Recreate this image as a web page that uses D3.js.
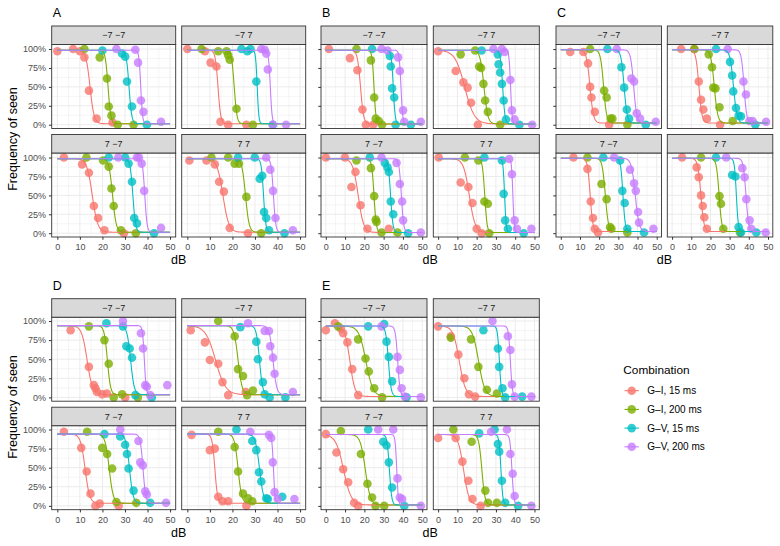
<!DOCTYPE html>
<html>
<head>
<meta charset="utf-8">
<script src="https://cdn.jsdelivr.net/npm/d3@7"></script>
<style>
  body { margin: 0; background: #fff; }
  text { font-family: "Liberation Sans", Arial, Helvetica, sans-serif; }
</style>
</head>
<body>
<svg id="chart" width="780" height="546"></svg>
<script>
// categories
var combos = ["G\u2013I, 15 ms", "G\u2013I, 200 ms", "G\u2013V, 15 ms", "G\u2013V, 200 ms"];
var colors = ["#F8766D", "#7CAE00", "#00BFC4", "#C77CFF"];
var facets = ["\u22127 \u22127", "\u22127 7", "7 \u22127", "7 7"];
var panelTags = ["A", "B", "C", "D", "E"];
var xTicks = [0, 10, 20, 30, 40, 50];
var xMinor = [5, 15, 25, 35, 45];
var yTicks = [0, 0.25, 0.5, 0.75, 1];
var yMinor = [0.125, 0.375, 0.625, 0.875];

// observed frequency of seen: [facet][combination] -> [dB, freq]
var pointsA = [
  [[[0,.97],[7,1],[10,.97],[12,.89],[14,.45],[17.4,.08],[24.5,.03]],
   [[12,1],[18.8,.89],[22,.61],[22.8,.24],[24,.12],[26.8,0],[33.8,0]],
   [[20,.98],[28.7,.94],[30.1,.9],[30.9,.57],[33.1,.24],[39.7,0]],
   [[26.2,1],[34.6,.99],[35.8,.82],[37.1,.32],[38.2,.17],[46,.04]]],
  [[[0,1],[7.8,.97],[10.3,.82],[12.9,.77],[14.7,.04],[18.1,0],[26.2,0]],
   [[6.3,1],[13.7,.97],[17.4,.97],[18.1,.92],[18.8,.86],[21.8,.21],[29.1,0]],
   [[24,1],[26.6,.97],[28,1],[30.6,.57],[37.9,0]],
   [[32.8,1],[34.3,.99],[35,.94],[35.7,.73],[37.9,0],[43.8,0]]],
  [[[2.9,1],[11,.91],[14,.8],[16.2,.36],[18.1,.2],[20.9,.04],[29.5,0]],
   [[12.9,1],[20.3,.96],[22.8,.88],[24,.59],[25,.36],[28.2,.04],[34.8,0]],
   [[22.8,1],[30.1,1],[31.6,.92],[33.1,.68],[34.1,.2],[35.3,.13],[42.9,0]],
   [[27,1],[35.3,1],[36.2,1],[37.4,.92],[38.5,.56],[46,.07]]],
  [[[.9,.96],[8.5,.96],[12.2,.91],[14.1,.68],[16.2,.55],[18.8,.07],[26.9,0]],
   [[10.7,1],[18.1,1],[21,.92],[22.9,.92],[26.2,.48],[32.8,0]],
   [[22.5,1],[29.9,1],[32.1,.72],[33.2,.76],[34,.28],[35,.2],[36.2,.04],[43.1,0]],
   [[35,1],[36.8,.84],[38,.56],[39.1,.2],[46.8,.04]]]
];
var pointsB = [
  [[[1.6,1],[12.5,.88],[16.4,.72],[19,.2],[20.8,0],[24.6,0]],
   [[15.9,1],[23.4,.85],[25.1,.36],[25.9,.08],[27.5,.05],[29.2,0]],
   [[24,1],[33.2,.91],[33.7,.77],[34.4,.48],[35.5,.36],[36.2,0],[44.1,0]],
   [[28.9,1],[32,.98],[37.5,.89],[38.4,.71],[40.1,.19],[40.7,.04],[49.3,.04]]],
  [[[0,.97],[9.1,.71],[13.1,.56],[15.3,.49],[17.1,.29],[20.6,0]],
   [[11.7,.93],[19.2,.98],[21.3,.77],[22.3,.75],[23.5,.54],[24.4,.32],[25.8,.17],[32.2,0]],
   [[22.6,.98],[31,.93],[31.4,.8],[32.2,.69],[33.1,.54],[34,.32],[35.2,.07],[42.2,0]],
   [[28.7,1],[33.1,1],[34.5,.96],[37.5,.59],[38.3,.19],[39.7,.07],[48.8,0]]],
  [[[0,1],[9.9,1],[13.3,.61],[15.4,.81],[18,.37],[21.6,.06],[32.7,.06]],
   [[15.9,.96],[23.4,.86],[25.1,.49],[25.9,.18],[26.3,.15],[28.9,.01],[37.2,.01]],
   [[22.8,1],[30.6,.93],[32,.87],[32.7,.81],[33.7,.42],[35,.25],[42.7,0]],
   [[28.9,1],[36.7,.93],[38.4,.65],[39.6,.42],[40.1,.17],[49.3,.01]]],
  [[[.3,1],[11.7,.67],[15.7,.61],[17.8,.4],[20,.06],[22.6,0]],
   [[13.9,1],[20.9,.96],[24,.42],[25.8,.39],[26.5,0]],
   [[24,1],[33.1,.96],[34,.52],[34.8,.17],[36.2,.06],[44.4,0]],
   [[36.9,.98],[38.3,.78],[39.7,.17],[40.9,.06],[48.4,.06]]]
];
var pointsC = [
  [[[4.9,.96],[11.8,.96],[14.2,.81],[15.3,.5],[16,.36],[17.7,.17],[25.2,0]],
   [[15.3,1],[22.6,.45],[23.9,.36],[26,.08],[26.9,.08],[34.7,0]],
   [[24.3,1],[31.6,.76],[33,.49],[34.4,.2],[35.6,.08],[44.3,0]],
   [[29.2,1],[36.8,.61],[38.2,.57],[39.6,.15],[41.3,.08],[49.5,.04]]],
  [[[4.7,1],[11.6,1],[13.9,.57],[15.1,.33],[16.3,.2],[18.1,.08],[25,0]],
   [[11.6,1],[19.1,.93],[20.8,.76],[21.5,.49],[22.6,.48],[24.7,.23],[31.6,.05]],
   [[22.9,1],[30.2,.83],[31.3,.65],[31.9,.44],[33.3,.22],[34.7,.12],[35.9,.11],[43.4,0]],
   [[29,1],[37.2,.57],[38.5,.4],[40.3,.05],[42,.05],[49,.04]]],
  [[[6.6,1],[13.9,.85],[15.6,.42],[16.8,.2],[17.7,.06],[19.4,.01]],
   [[13.9,1],[21.2,.65],[23.9,.45],[25.7,.08],[26.4,.06],[34.7,.01]],
   [[22.2,1],[30.9,.96],[32.1,.56],[33.3,.4],[34.7,.06],[43.4,.01]],
   [[27.8,1],[36.1,.84],[38.2,.66],[39.1,.56],[40.3,.28],[40.8,.14],[48.3,.06]]],
  [[[5.2,1],[12.8,.87],[13.9,.74],[15.1,.5],[16,.36],[16.8,.21],[18.1,.06]],
   [[15.1,1],[24.7,.49],[25.5,.39],[26.7,.06],[35.4,.01]],
   [[22.9,1],[31.3,.77],[33,.75],[34.7,.08],[35.9,.01],[43.9,.01]],
   [[28.2,1],[36.6,.86],[37.8,.74],[38.7,.45],[40.4,.17],[41.3,.06],[48.8,.01]]]
];
var pointsD = [
  [[[5.9,.88],[14,.4],[16.2,.16],[16.9,.12],[17.6,.07],[19.9,.04],[22,.05],[30.1,0]],
   [[14,.93],[20.9,.75],[22.8,.44],[25,0],[28.7,.04],[35.7,0]],
   [[21.8,.97],[29.1,.93],[30.6,.67],[32.1,.64],[33.1,.52],[34.6,.03],[41.9,0]],
   [[29.1,1],[37.1,.84],[38,.64],[39,.16],[39.7,.14],[41.2,.03],[48.8,.16]]],
  [[[1.5,.88],[7.8,.72],[10,.49],[13.7,.44],[15.6,.2],[18.1,.03],[25.9,.07]],
   [[13.7,1],[21,.8],[22.5,.37],[24.7,.28],[26.5,.03],[29.1,.09]],
   [[23.5,.92],[30.6,.73],[31.3,.5],[33.5,.2],[34.3,.04],[36.5,0],[43.5,0]],
   [[26.9,.97],[34.3,.87],[36.2,.87],[36.8,.67],[38,.52],[38.7,.31],[46.8,.07]]],
  [[[2.9,.97],[10.6,.76],[13,.45],[14.7,.16],[16.9,0],[18.8,.03],[27.2,0]],
   [[13.2,.97],[19.9,.76],[22.1,.68],[24.3,.49],[26.2,.05],[35,.04]],
   [[20.9,.94],[27.9,.91],[30.1,.8],[30.9,.68],[31.6,.49],[33.8,.2],[41.2,.04]],
   [[27.9,1],[36,.85],[36.8,.57],[37.9,.53],[39,.19],[39.7,.15],[48.2,.04]]],
  [[[1.9,.93],[10,.73],[12.2,.75],[13.7,.12],[15.6,.06],[18.1,.06],[26.2,0]],
   [[13.7,.97],[21,.77],[22.5,.45],[24.7,.16],[26.9,.1],[28.8,.06]],
   [[21.8,1],[28.8,.85],[30.6,.73],[31.8,.44],[32.8,.32],[35,.1],[35.7,.09],[42.1,.12]],
   [[27.9,.97],[36.2,.93],[37.2,.89],[37.9,.57],[38.7,.18],[40.1,.09],[47.5,.09]]]
];
var pointsE = [
  [[[0,.88],[4.7,.97],[7.8,.9],[9,.84],[11.2,.72],[13.7,.37],[16.8,.03]],
   [[6.4,.93],[16.8,.76],[20.6,.51],[22.3,.34],[25.1,.12],[29.2,0]],
   [[22,.93],[30.3,.96],[31.5,.73],[32.7,.53],[34.4,.21],[41.9,0]],
   [[28.9,.93],[37.2,.53],[38.4,.36],[39.3,.12],[41,.01],[49.3,0]]],
  [[[0,.93],[6.6,.8],[10.5,.56],[13.6,.25],[16,.04],[19.2,.01]],
   [[6.6,.78],[17.1,.76],[20.9,.4],[25.3,.1],[30.5,.05]],
   [[23.5,.88],[31,.64],[31.7,.4],[33.4,.12],[34.8,0],[43.6,.01]],
   [[28.2,1],[36.2,.8],[37.5,.62],[38.3,.17],[39.7,.01],[48.4,.01]]],
  [[[0,.94],[5.5,.7],[9,.48],[11.6,.31],[14.7,.04],[16.8,0]],
   [[7.8,.98],[18.2,.68],[21.6,.29],[24,.11],[25.8,0],[30.3,0]],
   [[22,1],[29.8,.84],[31.5,.79],[32.7,.57],[34.4,.24],[40.7,0]],
   [[27.2,1],[35,1],[37.2,.36],[38.4,.11],[39.6,.09],[49.3,0]]],
  [[[0,.89],[9.1,.89],[12.6,.58],[15.7,.33],[17.8,.09],[22.1,0]],
   [[7.9,1],[17.4,.84],[24.5,.2],[25.9,.04],[30.5,.04]],
   [[21.3,.95],[29.3,1],[31,.81],[31.7,.71],[33.1,.33],[34.8,.04],[41.5,0]],
   [[27.5,.97],[35.7,1],[37.5,.68],[38.7,.42],[39.7,.13],[48.4,0]]]
];

// fitted psychometric curves: [facet][combination] -> [threshold dB, spread]
var fitA = [[[14.5,.9],[22.5,.6],[31.8,.6],[37,.4]], [[13.6,.6],[20.8,.6],[31,.35],[36.8,.4]],
            [[15.5,1.2],[24.5,.8],[33.5,.6],[38.8,.5]], [[15.8,1.3],[25.8,.8],[33.8,.5],[38.2,.5]]];
var fitB = [[[18,.8],[25,.5],[35,.5],[39,.45]], [[13.8,2.5],[23.8,1],[33.5,.6],[37.6,.4]],
            [[16.8,1.4],[25,.6],[33.6,.6],[39.2,.6]], [[16.2,1.5],[24.2,.6],[34.5,.4],[38.8,.35]]];
var fitC = [[[15.2,.9],[22.3,.8],[33,.8],[38,.8]], [[14,.8],[22,.9],[32,.9],[37.5,.7]],
            [[15.3,.7],[23.2,.8],[32.4,.6],[38.8,1]], [[15,.8],[24.5,.7],[33.5,.5],[38.5,.7]]];
var fitD = [[[13.2,1.2],[22.2,.7],[32.5,.8],[38.6,.4]], [[12.5,2.2],[22.5,.9],[32,.7],[38,.8]],
            [[12.3,1],[23,.9],[32,.8],[38,.6]], [[12.2,.6],[22.5,.8],[32,.9],[38.2,.35]]];
var fitE = [[[12.5,1.3],[20.8,1.8],[32.5,.7],[37.3,.6]], [[11,1.6],[21,1.6],[31.8,.5],[37.5,.5]],
            [[9.2,2],[20.5,1.3],[33,.6],[36.8,.4]], [[13.2,1.4],[22.7,.8],[32.6,.5],[38.3,.5]]];
// lower (false positive) and upper (1 - false negative) asymptotes per panel
var lowerAsym = [0.013, 0.01, 0.022, 0.035, 0.012];
var upperAsym = [0.985, 0.985, 0.99, 0.94, 0.935];

var allPoints = [pointsA, pointsB, pointsC, pointsD, pointsE];
var allFits = [fitA, fitB, fitC, fitD, fitE];

// layout
var stripH = 18.5, panelH = 84, gapH = 6;
var layout = [
  {cols: [51.7, 181.7], w: 124, top: 26, yTop: 1.06, yLab: true, yTitle: 139},
  {cols: [321, 433.3], w: 106, top: 26, yTop: 1.06, yLab: false},
  {cols: [556, 667.3], w: 105.5, top: 26, yTop: 1.06, yLab: false},
  {cols: [51.7, 181.7], w: 124, top: 298.7, yTop: 1.05, yLab: true, yTitle: 407},
  {cols: [321, 433.3], w: 106, top: 298.7, yTop: 1.05, yLab: false}
];

var svg = d3.select("#chart");
svg.append("rect").attr("width", 780).attr("height", 546).attr("fill", "#fff");

function curvePoints(fit, lo, hi) {
  return d3.range(0, 50.001, 0.25).map(function(x) {
    return [x, lo + (hi - lo) / (1 + Math.exp((x - fit[0]) / fit[1]))];
  });
}

layout.forEach(function(L, p) {
  var g = svg.append("g");

  // panel tag
  g.append("text")
    .attr("x", L.cols[0] + 1)
    .attr("y", L.top - 9)
    .style("font-size", "12.5px")
    .style("fill", "#000")
    .text(panelTags[p]);

  facets.forEach(function(fname, f) {
    var col = f % 2, row = Math.floor(f / 2);
    var x0 = L.cols[col];
    var stripY = L.top + row * (stripH + panelH + gapH);
    var py = stripY + stripH;

    var x = d3.scaleLinear().domain([-2.5, 52.5]).range([x0, x0 + L.w]);
    var y = d3.scaleLinear().domain([-0.05, L.yTop]).range([py + panelH, py]);

    var fg = g.append("g");
    fg.append("rect").attr("x", x0).attr("y", py).attr("width", L.w).attr("height", panelH).attr("fill", "#fff");

    // grid
    fg.selectAll(".vminor").data(xMinor).enter().append("line")
      .attr("x1", d => x(d)).attr("x2", d => x(d)).attr("y1", py).attr("y2", py + panelH)
      .attr("stroke", "#EBEBEB").attr("stroke-width", 0.5);
    fg.selectAll(".hminor").data(yMinor).enter().append("line")
      .attr("x1", x0).attr("x2", x0 + L.w).attr("y1", d => y(d)).attr("y2", d => y(d))
      .attr("stroke", "#EBEBEB").attr("stroke-width", 0.5);
    fg.selectAll(".vmajor").data(xTicks).enter().append("line")
      .attr("x1", d => x(d)).attr("x2", d => x(d)).attr("y1", py).attr("y2", py + panelH)
      .attr("stroke", "#EBEBEB").attr("stroke-width", 1);
    fg.selectAll(".hmajor").data(yTicks).enter().append("line")
      .attr("x1", x0).attr("x2", x0 + L.w).attr("y1", d => y(d)).attr("y2", d => y(d))
      .attr("stroke", "#EBEBEB").attr("stroke-width", 1);

    var line = d3.line().x(d => x(d[0])).y(d => y(d[1]));

    // points
    combos.forEach(function(c, k) {
      fg.selectAll(".pt" + k).data(allPoints[p][f][k]).enter().append("circle")
        .attr("cx", d => x(d[0]))
        .attr("cy", d => y(d[1]))
        .attr("r", 4.3)
        .attr("fill", colors[k])
        .attr("opacity", 0.8);
    });

    // fitted curves
    combos.forEach(function(c, k) {
      fg.append("path")
        .datum(curvePoints(allFits[p][f][k], lowerAsym[p], upperAsym[p]))
        .attr("d", line)
        .attr("fill", "none")
        .attr("stroke", colors[k])
        .attr("stroke-width", 1.1);
    });

    // border
    fg.append("rect").attr("x", x0).attr("y", py).attr("width", L.w).attr("height", panelH)
      .attr("fill", "none").attr("stroke", "#333").attr("stroke-width", 0.9);

    // strip
    fg.append("rect").attr("x", x0).attr("y", stripY).attr("width", L.w).attr("height", stripH)
      .attr("fill", "#D9D9D9").attr("stroke", "#333").attr("stroke-width", 0.9);
    fg.append("text")
      .attr("x", x0 + L.w / 2).attr("y", stripY + stripH / 2 + 3.2)
      .attr("text-anchor", "middle")
      .style("font-size", "9px").style("fill", "#1A1A1A")
      .text(fname);

    // y axis on left column
    if (col === 0) {
      var yAxis = d3.axisLeft(y).tickValues(yTicks).tickSize(2.75).tickPadding(3)
        .tickFormat(L.yLab ? d3.format(".0%") : "");
      var ya = fg.append("g").attr("transform", "translate(" + x0 + ",0)").call(yAxis);
      ya.select(".domain").remove();
      ya.selectAll("line").attr("stroke", "#333");
      ya.selectAll("text").style("font-size", "9px").style("fill", "#4D4D4D")
        .style("font-family", "'Liberation Sans', Arial, sans-serif");
    }
    // x axis on bottom row
    if (row === 1) {
      var xAxis = d3.axisBottom(x).tickValues(xTicks).tickSize(2.75).tickPadding(4);
      var xa = fg.append("g").attr("transform", "translate(0," + (py + panelH) + ")").call(xAxis);
      xa.select(".domain").remove();
      xa.selectAll("line").attr("stroke", "#333");
      xa.selectAll("text").style("font-size", "9px").style("fill", "#4D4D4D")
        .style("font-family", "'Liberation Sans', Arial, sans-serif");
    }
  });

  // axis titles
  var bottom = L.top + 2 * (stripH + panelH) + gapH;
  g.append("text")
    .attr("x", (L.cols[0] + L.cols[1] + L.w) / 2)
    .attr("y", bottom + 27)
    .attr("text-anchor", "middle")
    .style("font-size", "12.5px")
    .text("dB");
  if (L.yLab) {
    g.append("text")
      .attr("transform", "translate(17," + L.yTitle + ") rotate(-90)")
      .attr("text-anchor", "middle")
      .style("font-size", "12.5px")
      .text("Frequency of seen");
  }
});

// legend
var legend = svg.append("g");
legend.append("text")
  .attr("x", 623.3).attr("y", 373.6)
  .style("font-size", "11.8px")
  .text("Combination");
combos.forEach(function(c, k) {
  var ly = 390.7 + k * 18.7;
  legend.append("line")
    .attr("x1", 624.5).attr("x2", 638.9).attr("y1", ly).attr("y2", ly)
    .attr("stroke", colors[k]).attr("stroke-width", 1.1);
  legend.append("circle")
    .attr("cx", 631.7).attr("cy", ly).attr("r", 4.3)
    .attr("fill", colors[k]).attr("opacity", 0.8);
  legend.append("text")
    .attr("x", 647.3).attr("y", ly + 3.6)
    .style("font-size", "10px")
    .text(c);
});
</script>
</body>
</html>
